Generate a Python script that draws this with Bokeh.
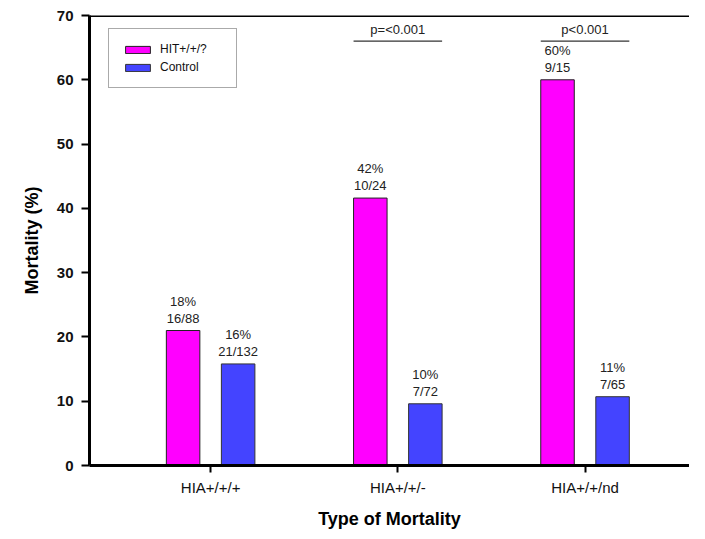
from bokeh.plotting import figure
from bokeh.models import Range1d, FixedTicker, ColumnDataSource, Legend, LegendItem, Span
from bokeh.core.properties import value
from bokeh.transform import dodge
from bokeh.embed import file_html
from bokeh.resources import INLINE

# ---- data ----
categories = ["HIA+/+/+", "HIA+/+/-", "HIA+/+/nd"]
series_names = ["HIT+/+/?", "Control"]
hit_values = [21.0, 41.6, 60.0]
control_values = [15.8, 9.6, 10.7]
hit_pct = ["18%", "42%", "60%"]
hit_frac = ["16/88", "10/24", "9/15"]
control_pct = ["16%", "10%", "11%"]
control_frac = ["21/132", "7/72", "7/65"]
p_groups = [1, 2]            # category index that carries a p-value bracket
p_labels = ["p=<0.001", "p<0.001"]
p_level = 66
y_ticks = [0, 10, 20, 30, 40, 50, 60, 70]

FONT = "Liberation Sans"
MAGENTA = "#ff00ff"
BLUE = "#4444ff"

xs = list(range(1, len(categories) + 1))
src = ColumnDataSource(dict(
    x=xs, hit=hit_values, control=control_values,
    hit_pct=hit_pct, hit_frac=hit_frac,
    control_pct=control_pct, control_frac=control_frac,
))
psrc = ColumnDataSource(dict(
    x=[xs[i] for i in p_groups],
    y=[p_level] * len(p_groups),
    label=p_labels,
))

p = figure(width=689, height=531, output_backend="svg", toolbar_location=None,
           x_range=Range1d(0.353, 3.558), y_range=Range1d(0, 70),
           min_border_left=89, min_border_right=0, min_border_top=15, min_border_bottom=66)
p.outline_line_color = None
p.xgrid.visible = False
p.ygrid.visible = False

off = 0.147
bw = 0.179
r_hit = p.vbar(x=dodge("x", -off, range=p.x_range), top="hit", width=bw, bottom=0,
               source=src, fill_color=MAGENTA, line_color="#222222", line_width=1)
r_ctl = p.vbar(x=dodge("x", off, range=p.x_range), top="control", width=bw, bottom=0,
               source=src, fill_color=BLUE, line_color="#333333", line_width=1)

lab_kw = dict(source=src, text_align="center", text_baseline="bottom",
              text_font=value(FONT), text_font_size="13px", text_color="#222222")
p.text(x=dodge("x", -off, range=p.x_range), y="hit", text="hit_frac", y_offset=-5, **lab_kw)
p.text(x=dodge("x", -off, range=p.x_range), y="hit", text="hit_pct", y_offset=-22, **lab_kw)
p.text(x=dodge("x", off, range=p.x_range), y="control", text="control_frac", y_offset=-5, **lab_kw)
p.text(x=dodge("x", off, range=p.x_range), y="control", text="control_pct", y_offset=-22, **lab_kw)

# p-value brackets
p.segment(x0=dodge("x", -off - bw / 2, range=p.x_range), x1=dodge("x", off + bw / 2, range=p.x_range),
          y0="y", y1="y", source=psrc, line_color="#333333", line_width=1.2)
p.text(x="x", y="y", text="label", source=psrc, y_offset=-4, text_align="center",
       text_baseline="bottom", text_font=value(FONT), text_font_size="13px", text_color="#222222")

# top border line
p.add_layout(Span(location=70, dimension="width", line_color="black", line_width=3))

# axes
p.yaxis.ticker = FixedTicker(ticks=y_ticks)
p.yaxis.axis_label = "Mortality (%)"
p.yaxis.axis_label_text_font = FONT
p.yaxis.axis_label_text_font_style = "bold"
p.yaxis.axis_label_text_font_size = "18px"
p.yaxis.axis_label_text_color = "black"
p.yaxis.axis_label_standoff = 12
p.yaxis.major_label_text_font = FONT
p.yaxis.major_label_text_font_style = "bold"
p.yaxis.major_label_text_font_size = "15px"
p.yaxis.major_label_text_color = "#111111"
p.yaxis.major_label_standoff = 8
p.yaxis.major_tick_out = 8
p.yaxis.major_tick_in = 0
p.yaxis.minor_tick_out = 0
p.yaxis.minor_tick_in = 0
p.yaxis.axis_line_width = 3
p.yaxis.major_tick_line_width = 2

p.xaxis.ticker = FixedTicker(ticks=xs)
p.xaxis.major_label_overrides = {x: c for x, c in zip(xs, categories)}
p.xaxis.axis_label = "Type of Mortality"
p.xaxis.axis_label_text_font = FONT
p.xaxis.axis_label_text_font_style = "bold"
p.xaxis.axis_label_text_font_size = "18px"
p.xaxis.axis_label_text_color = "black"
p.xaxis.axis_label_standoff = 10
p.xaxis.major_label_text_font = FONT
p.xaxis.major_label_text_font_size = "15px"
p.xaxis.major_label_text_color = "#111111"
p.xaxis.major_label_standoff = 6
p.xaxis.major_tick_out = 7
p.xaxis.major_tick_in = 0
p.xaxis.minor_tick_out = 0
p.xaxis.minor_tick_in = 0
p.xaxis.axis_line_width = 3
p.xaxis.major_tick_line_width = 2

legend = Legend(items=[LegendItem(label=series_names[0], renderers=[r_hit]),
                       LegendItem(label=series_names[1], renderers=[r_ctl])],
                location=(19, 377), margin=0, padding=13, spacing=4,
                glyph_width=31, glyph_height=9, label_height=9, label_width=63,
                label_standoff=7, label_text_font=FONT, label_text_font_size="12px",
                label_text_color="#111111", border_line_color="#555555",
                border_line_width=1, background_fill_alpha=1)
p.add_layout(legend)

open("out.html", "w").write(file_html(p, INLINE))
